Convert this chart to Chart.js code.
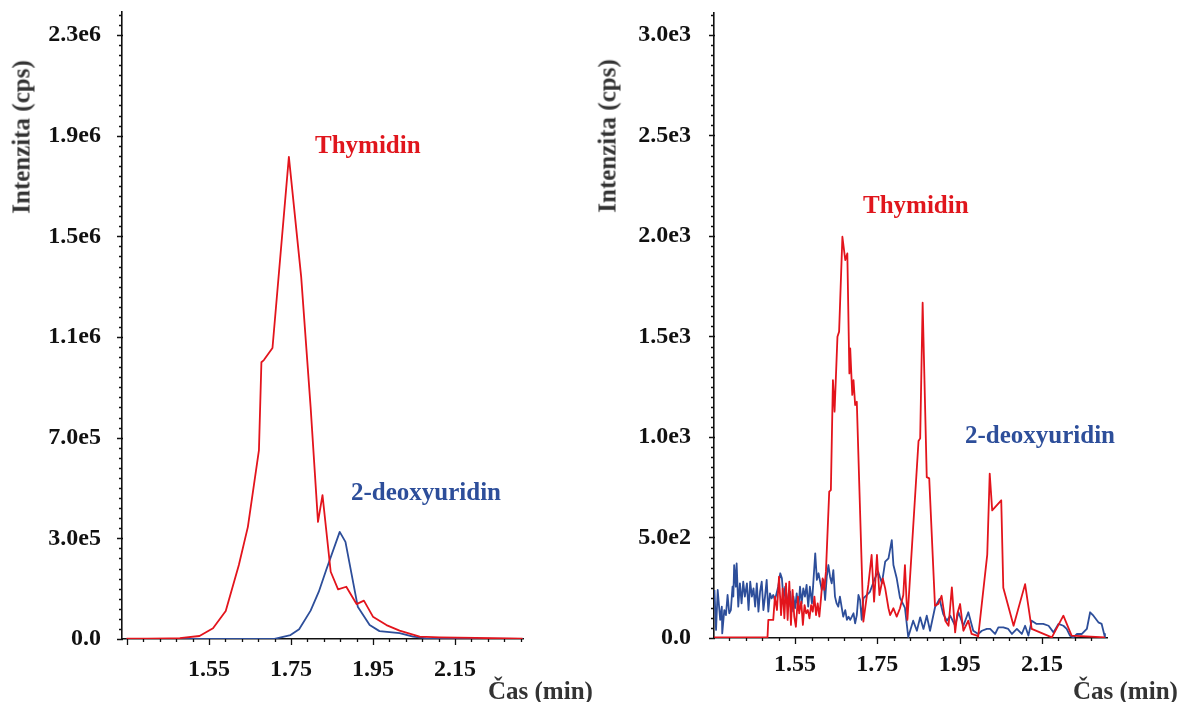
<!DOCTYPE html>
<html>
<head>
<meta charset="utf-8">
<script src="https://cdn.jsdelivr.net/npm/chart.js@4.4.1/dist/chart.umd.min.js"></script>
<style>
  body { margin: 0; background: #fff; }
  #wrap { position: relative; width: 1186px; height: 702px; overflow: hidden; }
  canvas { position: absolute; top: 0; }
  .lbl { position: absolute; font-family: "Liberation Serif", "Times New Roman", serif; font-weight: bold;
         font-size: 25px; line-height: 25px; white-space: nowrap; }
  .ytitle { transform: translate(-50%, -50%) rotate(-90deg); color: #333; }
  .red { color: #e0161d; }
  .blue { color: #2d4e9a; }
  .xtitle { color: #333; }
</style>
</head>
<body>
<div id="wrap">
  <canvas id="left" width="593" height="702" style="left:0"></canvas>
  <canvas id="right" width="593" height="702" style="left:593px"></canvas>

  <div class="lbl ytitle" style="left:21px; top:137px">Intenzita (cps)</div>
  <div class="lbl red" style="left:315px; top:132px">Thymidin</div>
  <div class="lbl blue" style="left:351px; top:479px">2-deoxyuridin</div>
  <div class="lbl xtitle" style="left:488px; top:678px">Čas (min)</div>

  <div class="lbl ytitle" style="left:607px; top:136px">Intenzita (cps)</div>
  <div class="lbl red" style="left:863px; top:192px">Thymidin</div>
  <div class="lbl blue" style="left:965px; top:422px">2-deoxyuridin</div>
  <div class="lbl xtitle" style="left:1073px; top:678px">Čas (min)</div>
</div>
<script>
// shared x ticks (minutes)
const timeTicks = [1.55, 1.75, 1.95, 2.15];
const timeTickLabels = ['1.55', '1.75', '1.95', '2.15'];

// left chart y ticks (labels as printed by the software)
const leftYTicks = [0, 383333, 766667, 1150000, 1533333, 1916667, 2300000];
const leftYTickLabels = ['0.0', '3.0e5', '7.0e5', '1.1e6', '1.5e6', '1.9e6', '2.3e6'];

// right chart y ticks
const rightYTicks = [0, 500, 1000, 1500, 2000, 2500, 3000];
const rightYTickLabels = ['0.0', '5.0e2', '1.0e3', '1.5e3', '2.0e3', '2.5e3', '3.0e3'];

// left chart - thymidin
const leftThyTime = [1.349, 1.400, 1.455, 1.479, 1.527, 1.560, 1.591, 1.623, 1.645, 1.672, 1.678, 1.684,
  1.705, 1.745, 1.775, 1.798, 1.816, 1.827, 1.847, 1.865, 1.885, 1.910, 1.928, 1.950, 1.983, 2.015,
  2.064, 2.113, 2.200, 2.315];
const leftThyInt = [1500, 1500, 2500, 3500, 11400, 40700, 106600, 281600, 427000, 719300, 1054000, 1062000,
  1108000, 1836000, 1379000, 884000, 446000, 548000, 256000, 189000, 199000, 133000, 146000, 85000, 53000, 32000,
  8800, 6500, 4000, 1000];

// left chart - 2-deoxyuridin
const leftDeoTime = [1.349, 1.710, 1.749, 1.770, 1.798, 1.818, 1.836, 1.869, 1.883, 1.913, 1.942, 1.966,
  2.015, 2.048, 2.080, 2.315];
const leftDeoInt = [300, 500, 15200, 37000, 108000, 180000, 263000, 408000, 370000, 123000, 53000, 30000,
  22000, 8800, 2700, 500];

// right chart - thymidin
const rightThyTime = [1.353, 1.483, 1.485, 1.497, 1.501, 1.506, 1.511, 1.516, 1.520, 1.524, 1.528, 1.532,
  1.536, 1.540, 1.544, 1.548, 1.552, 1.557, 1.560, 1.565, 1.569, 1.573, 1.577, 1.581, 1.585, 1.589, 1.593,
  1.597, 1.601, 1.605, 1.609, 1.613, 1.617, 1.621, 1.625, 1.633, 1.637, 1.642, 1.646, 1.653, 1.657, 1.665,
  1.672, 1.677, 1.682, 1.684, 1.689, 1.692, 1.696, 1.700, 1.716, 1.728, 1.736, 1.742, 1.749, 1.755, 1.763,
  1.769, 1.777, 1.781, 1.789, 1.797, 1.805, 1.813, 1.817, 1.823, 1.850, 1.854, 1.860, 1.870, 1.876, 1.890,
  1.898, 1.906, 1.915, 1.923, 1.931, 1.939, 1.944, 1.951, 1.959, 1.971, 1.979, 1.992, 1.995, 2.017, 2.023,
  2.029, 2.051, 2.056, 2.081, 2.109, 2.125, 2.174, 2.202, 2.222, 2.303];
const rightThyInt = [3, 3, 90, 90, 206, 139, 305, 114, 247, 98, 272, 90,
  280, 65, 239, 106, 56, 206, 123, 181, 65, 164, 123, 139, 98, 164, 131,
  206, 114, 172, 106, 197, 297, 239, 330, 728, 736, 1283, 1126, 1499, 1524, 1996,
  1880, 1913, 1316, 1441, 1209, 1283, 1159, 1175, 81, 264, 413, 181, 413, 214, 297,
  247, 148, 114, 148, 106, 148, 214, 363, 90, 980, 993, 1668, 800, 794, 160,
  169, 210, 86, 61, 252, 28, 119, 169, 36, 86, 20, 12, 7, 415, 818,
  635, 685, 250, 61, 268, 45, 3, 111, 12, 3];

// right chart - 2-deoxyuridin
const rightDeoTime = [1.354, 1.358, 1.362, 1.368, 1.372, 1.373, 1.378, 1.382, 1.386, 1.390, 1.394, 1.398,
  1.400, 1.402, 1.406, 1.408, 1.412, 1.416, 1.420, 1.424, 1.428, 1.433, 1.437, 1.441, 1.445, 1.449, 1.453,
  1.457, 1.461, 1.465, 1.469, 1.473, 1.477, 1.481, 1.485, 1.489, 1.493, 1.497, 1.501, 1.506, 1.509, 1.514,
  1.518, 1.522, 1.526, 1.530, 1.534, 1.538, 1.542, 1.546, 1.550, 1.554, 1.558, 1.562, 1.566, 1.570, 1.574,
  1.578, 1.582, 1.586, 1.591, 1.594, 1.599, 1.603, 1.607, 1.611, 1.615, 1.619, 1.623, 1.627, 1.631, 1.635,
  1.639, 1.643, 1.647, 1.651, 1.655, 1.659, 1.663, 1.667, 1.672, 1.676, 1.680, 1.684, 1.688, 1.692, 1.696,
  1.700, 1.704, 1.708, 1.712, 1.716, 1.732, 1.744, 1.752, 1.761, 1.769, 1.777, 1.785, 1.789, 1.797, 1.805,
  1.817, 1.825, 1.837, 1.846, 1.854, 1.862, 1.870, 1.878, 1.890, 1.901, 1.910, 1.919, 1.927, 1.939, 1.947,
  1.959, 1.971, 1.983, 1.995, 2.004, 2.016, 2.024, 2.036, 2.044, 2.056, 2.068, 2.077, 2.089, 2.101, 2.109,
  2.117, 2.125, 2.137, 2.153, 2.166, 2.178, 2.190, 2.202, 2.210, 2.218, 2.226, 2.235, 2.247, 2.259, 2.267,
  2.275, 2.287, 2.295, 2.301, 2.303];
const rightDeoInt = [239, 40, 239, 90, 156, 23, 139, 114, 214, 123, 139, 255,
  206, 363, 255, 371, 156, 272, 172, 280, 206, 272, 139, 280, 206, 247, 156,
  272, 131, 230, 280, 139, 206, 289, 131, 222, 197, 214, 189, 230, 255, 322,
  297, 189, 255, 206, 156, 230, 131, 206, 148, 222, 139, 255, 172, 247, 206,
  264, 156, 255, 172, 264, 421, 289, 322, 280, 239, 289, 189, 305, 363, 305,
  272, 338, 206, 172, 156, 206, 156, 106, 139, 90, 106, 90, 106, 123, 73,
  114, 214, 189, 90, 197, 230, 297, 330, 272, 380, 396, 487, 363, 297, 200,
  150, 5, 86, 36, 103, 45, 111, 36, 152, 194, 119, 86, 111, 61, 128,
  61, 128, 36, 20, 36, 45, 45, 20, 53, 53, 45, 20, 45, 20, 61,
  12, 86, 70, 70, 61, 28, 70, 61, 45, 12, 3, 20, 20, 45, 128,
  111, 78, 70, 20, 3];

const RED = '#e3141c';
const BLUE = '#2d4e9a';

function pts(t, v) { return t.map((x, i) => ({ x: x, y: v[i] })); }

// minor / major tick marks drawn on the axis lines
const axisTicks = {
  id: 'axisTicks',
  afterDraw(chart, args, opts) {
    const ctx = chart.ctx, xs = chart.scales.x, ys = chart.scales.y;
    const a = chart.chartArea;
    ctx.save();
    ctx.strokeStyle = '#111';
    ctx.lineWidth = 1.3;
    ctx.beginPath();
    const yMinor = opts.yStep / 10;
    for (let k = 0; k * yMinor <= ys.max + 1e-9; k++) {
      const py = Math.round(ys.getPixelForValue(k * yMinor)) + 0.5;
      const major = k % 10 === 0;
      ctx.moveTo(a.left - (major ? 5 : 3), py);
      ctx.lineTo(a.left + (major ? 1 : 0), py);
    }
    for (let k = -10; k < 40; k++) {
      const v = 1.55 + k * 0.04;
      if (v < xs.min || v > xs.max) continue;
      const px = Math.round(xs.getPixelForValue(v)) + 0.5;
      const major = ((k % 5) + 5) % 5 === 0;
      ctx.moveTo(px, a.bottom);
      ctx.lineTo(px, a.bottom + (major ? 6 : 3));
    }
    ctx.stroke();
    ctx.restore();
  }
};

const tickFont = { family: '"Liberation Serif", "Times New Roman", serif', size: 24, weight: 'bold' };

function makeChart(id, thy, deo, xMin, xMax, yMax, yTicks, yLabels, yPad, xPad, area) {
  return new Chart(document.getElementById(id), {
    type: 'line',
    data: {
      datasets: [
        { label: 'Thymidin', data: thy, borderColor: RED, borderWidth: 1.8, pointRadius: 0, tension: 0,
          borderJoinStyle: 'round' },
        { label: '2-deoxyuridin', data: deo, borderColor: BLUE, borderWidth: 1.8, pointRadius: 0, tension: 0,
          borderJoinStyle: 'round' }
      ]
    },
    options: {
      responsive: false,
      animation: false,
      events: [],
      layout: { padding: { top: area.top, right: area.right, bottom: 0, left: 0 } },
      plugins: {
        legend: { display: false },
        tooltip: { enabled: false },
        axisTicks: { yStep: yTicks[1] }
      },
      scales: {
        x: {
          type: 'linear',
          min: xMin,
          max: xMax,
          grid: { display: false, drawTicks: false },
          border: { display: true, color: '#111', width: 1.6 },
          afterBuildTicks: s => { s.ticks = timeTicks.map(v => ({ value: v })); },
          afterFit: s => { s.height = area.xh; s.paddingLeft = 0; s.paddingRight = 0; },
          ticks: {
            autoSkip: false,
            maxRotation: 0,
            padding: xPad,
            color: '#111',
            font: tickFont,
            callback: (v, i) => timeTickLabels[i]
          }
        },
        y: {
          min: 0,
          max: yMax,
          grid: { display: false, drawTicks: false },
          border: { display: true, color: '#111', width: 1.6 },
          afterBuildTicks: s => { s.ticks = yTicks.map(v => ({ value: v })); },
          afterFit: s => { s.width = area.left; s.paddingTop = 0; s.paddingBottom = 0; },
          ticks: {
            autoSkip: false,
            padding: yPad,
            color: '#111',
            font: tickFont,
            callback: (v, i) => yLabels[i]
          }
        }
      }
    },
    plugins: [axisTicks]
  });
}

makeChart('left', pts(leftThyTime, leftThyInt), pts(leftDeoTime, leftDeoInt),
  1.338, 2.316, 2387500, leftYTicks, leftYTickLabels, 21, 16,
  { top: 12, right: 70, left: 122, xh: 63 });

makeChart('right', pts(rightThyTime, rightThyInt), pts(rightDeoTime, rightDeoInt),
  1.353, 2.308, 3109, rightYTicks, rightYTickLabels, 23, 12,
  { top: 13, right: 79, left: 121, xh: 64 });
</script>
</body>
</html>
